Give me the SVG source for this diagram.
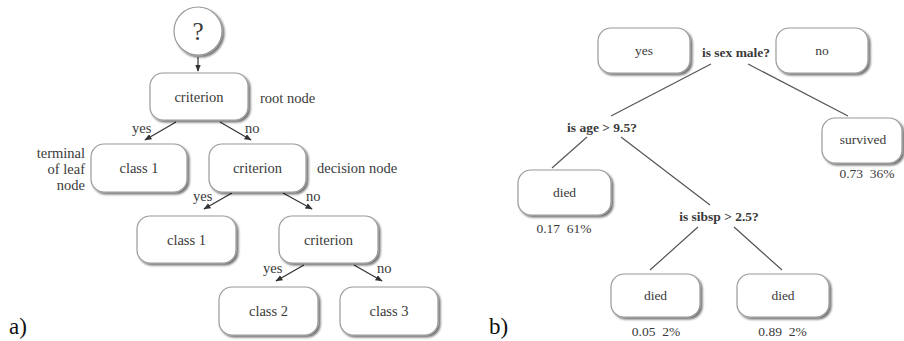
<svg xmlns="http://www.w3.org/2000/svg" width="904" height="341" viewBox="0 0 904 341" font-family="'Liberation Serif', 'DejaVu Serif', serif">
<defs>
<filter id="sh" x="-10%" y="-10%" width="125%" height="130%">
<feGaussianBlur in="SourceAlpha" stdDeviation="0.8" result="b"/>
<feOffset in="b" dx="2" dy="2" result="o"/>
<feComponentTransfer in="o" result="s"><feFuncA type="linear" slope="0.55"/></feComponentTransfer>
<feMerge><feMergeNode in="s"/><feMergeNode in="SourceGraphic"/></feMerge>
</filter>
<marker id="ah" viewBox="0 0 10 10" refX="9" refY="5" markerWidth="6" markerHeight="6" orient="auto-start-reverse">
<path d="M0,1 L10,5 L0,9 z" fill="#333"/>
</marker>
</defs>
<style>
.box{fill:#fff;stroke:#9a9a9a;stroke-width:1.2;filter:url(#sh)}
text{font-family:'Liberation Serif','DejaVu Serif',serif}
.t{fill:#3a3a3a}
.a{font-size:14.5px}
.b{font-size:13.5px}
.bold{font-weight:bold}
.mid{text-anchor:middle}
.end{text-anchor:end}
.arr{stroke:#333;stroke-width:1.2;fill:none;marker-end:url(#ah)}
.ln{stroke:#555;stroke-width:1.2;fill:none}
.lab{fill:#111;font-size:23px}
</style>
<rect width="904" height="341" fill="#fff"/>

<!-- Panel a -->
<g id="connectors-a">
<line class="arr" x1="198" y1="57" x2="198" y2="71"/>
<line class="arr" x1="176" y1="122" x2="145" y2="140"/>
<line class="arr" x1="220" y1="122" x2="251" y2="140"/>
<line class="arr" x1="232" y1="193" x2="204" y2="209"/>
<line class="arr" x1="283" y1="193" x2="312" y2="209"/>
<line class="arr" x1="304" y1="265" x2="276" y2="281"/>
<line class="arr" x1="354" y1="265" x2="382" y2="281"/>
</g>
<g id="edge-labels-a" class="t a">
<text x="132" y="133">yes</text>
<text x="245" y="133">no</text>
<text x="193" y="201">yes</text>
<text x="306" y="201">no</text>
<text x="263" y="273">yes</text>
<text x="377" y="273">no</text>
</g>
<g id="start">
<circle cx="198" cy="31" r="24" fill="#fff" stroke="#9a9a9a" stroke-width="1.2" filter="url(#sh)"/>
<text class="t mid" x="198" y="40" font-size="25">?</text>
</g>
<g id="root">
<rect class="box" x="150" y="73" width="98" height="47" rx="13"/>
<text class="t a mid" x="199" y="102">criterion</text>
</g>
<text class="t a" x="260" y="103">root node</text>
<g id="leaf1">
<rect class="box" x="91" y="144" width="96" height="48" rx="13"/>
<text class="t a mid" x="139" y="173">class 1</text>
</g>
<g id="decision">
<rect class="box" x="209" y="144" width="97" height="48" rx="13"/>
<text class="t a mid" x="257.5" y="173">criterion</text>
</g>
<text class="t a end" x="85" y="158">terminal</text>
<text class="t a end" x="85" y="174">of leaf</text>
<text class="t a end" x="85" y="190">node</text>
<text class="t a" x="317" y="173">decision node</text>
<g id="leaf2">
<rect class="box" x="137" y="216" width="99" height="47" rx="13"/>
<text class="t a mid" x="186.5" y="245">class 1</text>
</g>
<g id="criterion3">
<rect class="box" x="279" y="216" width="99" height="47" rx="13"/>
<text class="t a mid" x="328.5" y="245">criterion</text>
</g>
<g id="class2">
<rect class="box" x="219" y="287" width="99" height="48" rx="13"/>
<text class="t a mid" x="268.5" y="316">class 2</text>
</g>
<g id="class3">
<rect class="box" x="340" y="287" width="98" height="48" rx="13"/>
<text class="t a mid" x="389" y="316">class 3</text>
</g>
<text class="lab" x="9" y="334">a)</text>

<!-- Panel b -->
<g id="connectors-b">
<line class="ln" x1="711" y1="64" x2="611" y2="116"/>
<line class="ln" x1="748" y1="64" x2="848" y2="116"/>
<line class="ln" x1="587" y1="137" x2="552" y2="168"/>
<line class="ln" x1="621" y1="137" x2="710" y2="205"/>
<line class="ln" x1="698" y1="227" x2="650" y2="270"/>
<line class="ln" x1="734" y1="227" x2="782" y2="270"/>
</g>
<g id="yes-b">
<rect class="box" x="598" y="28" width="92" height="45" rx="13"/>
<text class="t b mid" x="644" y="55">yes</text>
</g>
<g id="q-sex">
<text class="t b bold mid" x="736" y="57">is sex male?</text>
</g>
<g id="no-b">
<rect class="box" x="776" y="28" width="92" height="45" rx="13"/>
<text class="t b mid" x="822" y="55">no</text>
</g>
<g id="q-age">
<text class="t b bold mid" x="602" y="132">is age &gt; 9.5?</text>
</g>
<g id="survived">
<rect class="box" x="822" y="118" width="80" height="45" rx="13"/>
<text class="t b mid" x="863" y="144">survived</text>
<text class="t b mid" x="867" y="178" xml:space="preserve">0.73  36%</text>
</g>
<g id="died1">
<rect class="box" x="518" y="170" width="93" height="45" rx="13"/>
<text class="t b mid" x="564.5" y="197">died</text>
<text class="t b mid" x="564" y="233" xml:space="preserve">0.17  61%</text>
</g>
<g id="q-sibsp">
<text class="t b bold mid" x="719" y="221">is sibsp &gt; 2.5?</text>
</g>
<g id="died2">
<rect class="box" x="611" y="274" width="89" height="43" rx="13"/>
<text class="t b mid" x="655.5" y="300">died</text>
<text class="t b mid" x="656" y="336" xml:space="preserve">0.05  2%</text>
</g>
<g id="died3">
<rect class="box" x="737" y="274" width="92" height="43" rx="13"/>
<text class="t b mid" x="783" y="300">died</text>
<text class="t b mid" x="782.5" y="336" xml:space="preserve">0.89  2%</text>
</g>
<text class="lab" x="489" y="334">b)</text>
</svg>
